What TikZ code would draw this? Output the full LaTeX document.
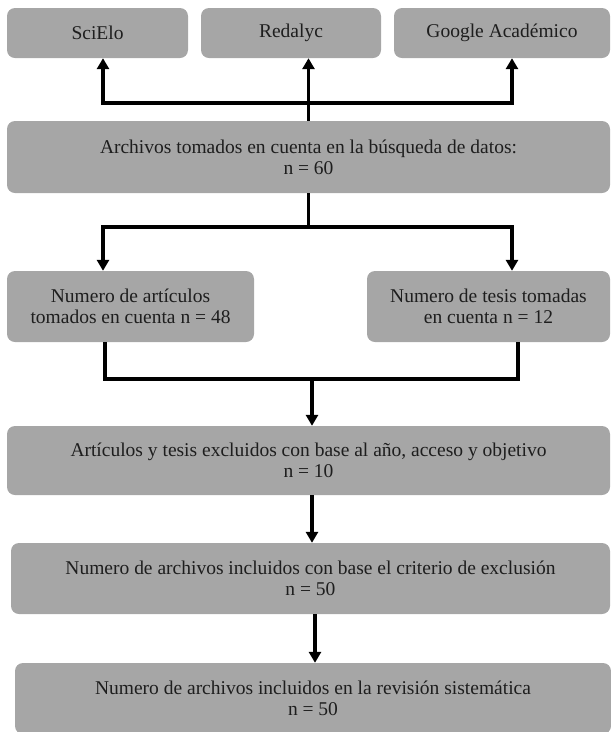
\documentclass[tikz,border=0pt]{standalone}
\usepackage{fontspec}
\setmainfont{Liberation Serif}
\usetikzlibrary{arrows.meta}
\definecolor{boxgray}{HTML}{A6A6A6}
\definecolor{txt}{HTML}{1E1E1E}
\begin{document}
\begin{tikzpicture}[x=1pt,y=1pt,
  box/.style={fill=boxgray, rounded corners=8pt, inner sep=0pt, align=center,
    text=txt, font=\fontsize{19.5}{21}\selectfont, anchor=center},
  conn/.style={line width=3.2pt, draw=black},
  arr/.style={conn, -{Triangle[width=12pt,length=11pt]}}]
\useasboundingbox (0,0) rectangle (611,-732);
\node[box, minimum width=181pt, minimum height=50pt] (scielo) at (97.5,-33) {SciElo};
\node[box, minimum width=180pt, minimum height=50pt] (redalyc) at (291,-33) {Redalyc};
\node[box, minimum width=216pt, minimum height=50pt] (google) at (502,-33) {Google Académico};
\node[box, minimum width=603pt, minimum height=72pt] (archivos) at (308.5,-157) {Archivos tomados en cuenta en la búsqueda de datos:\\n = 60};
\node[box, minimum width=247pt, minimum height=71pt] (art) at (130.5,-306.5) {Numero de artículos\\tomados en cuenta n = 48};
\node[box, minimum width=243pt, minimum height=71pt] (tesis) at (488.5,-306.5) {Numero de tesis tomadas\\en cuenta n = 12};
\node[box, minimum width=603pt, minimum height=69pt] (excl) at (308.5,-460.5) {Artículos y tesis excluidos con base al año, acceso y objetivo\\n = 10};
\node[box, minimum width=599pt, minimum height=71pt] (incl) at (310.5,-578.5) {Numero de archivos incluidos con base el criterio de exclusión\\n = 50};
\node[box, minimum width=596pt, minimum height=71pt] (rev) at (313,-698.5) {Numero de archivos incluidos en la revisión sistemática\\n = 50};
\coordinate (jt) at (308.5,-103);
\coordinate (jm) at (308.5,-227);
\coordinate (jl) at (312,-379);
\draw[conn] (archivos.north) -- (jt);
\draw[arr] (jt) -- (jt |- redalyc.south);
\draw[arr] (jt) -| ([xshift=5.5pt]scielo.south);
\draw[arr] (jt) -| ([xshift=10pt]google.south);
\draw[conn] (archivos.south) -- (jm);
\draw[arr] (jm) -| ([xshift=-27.5pt]art.north);
\draw[arr] (jm) -| ([xshift=23.5pt]tesis.north);
\draw[conn] ([xshift=-25.5pt]art.south) |- (jl) -| ([xshift=29.5pt]tesis.south);
\draw[arr] (jl) -- (jl |- excl.north);
\draw[arr] ([xshift=3.5pt]excl.south) -- ([xshift=3.5pt]excl.south |- incl.north);
\draw[arr] ([xshift=4.5pt]incl.south) -- ([xshift=4.5pt]incl.south |- rev.north);
\end{tikzpicture}
\end{document}
